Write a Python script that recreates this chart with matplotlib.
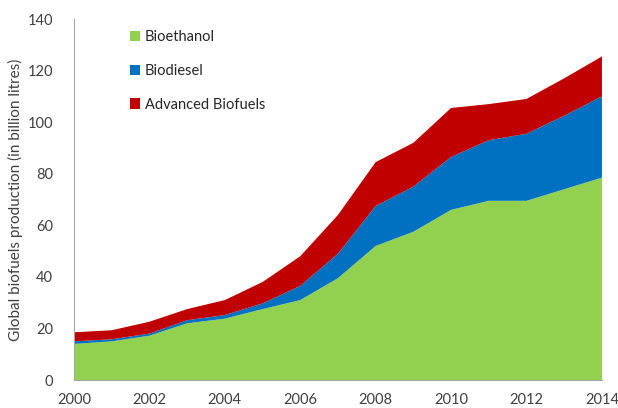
import matplotlib
matplotlib.use("Agg")
import matplotlib.pyplot as plt
from matplotlib.patches import Patch

years = [2000, 2001, 2002, 2003, 2004, 2005, 2006, 2007, 2008, 2009, 2010, 2011, 2012, 2013, 2014]
bioethanol = [14.0, 15.0, 17.2, 22.0, 23.8, 27.5, 31.0, 39.5, 52.0, 57.5, 66.0, 69.5, 69.5, 74.0, 78.5]
biodiesel = [1.0, 0.8, 0.8, 1.2, 1.4, 2.2, 5.5, 9.5, 15.5, 17.5, 20.5, 23.5, 26.0, 28.5, 31.5]
advanced = [3.5, 3.5, 4.6, 4.3, 5.8, 8.3, 11.5, 15.0, 17.0, 17.0, 19.0, 14.0, 13.5, 14.5, 15.5]
labels = ["Bioethanol", "Biodiesel", "Advanced Biofuels"]
colors = ["#92D050", "#0070C0", "#C00000"]
xticks = [2000, 2002, 2004, 2006, 2008, 2010, 2012, 2014]
yticks = [0, 20, 40, 60, 80, 100, 120, 140]

plt.rcParams['font.family'] = ['Lato', 'DejaVu Sans']

fig = plt.figure(figsize=(6.18, 4.08), dpi=100)
ax = fig.add_axes([0.1197, 0.0686, 0.8543, 0.8848])
ax.stackplot(years, bioethanol, biodiesel, advanced, colors=colors, linewidth=0)

ax.set_xlim(2000, 2014)
ax.set_ylim(0, 140)
ax.set_xticks(xticks)
ax.set_xticklabels([str(t) for t in xticks])
ax.set_yticks(yticks)
ax.tick_params(length=0, labelsize=10.5, colors="#404040")
ax.tick_params(axis='y', pad=15)
ax.tick_params(axis='x', pad=9)
for s in ["top", "right"]:
    ax.spines[s].set_visible(False)
ax.spines["left"].set_color("#A6A6A6")
ax.spines["bottom"].set_color("#A6A6A6")
ax.set_ylabel("Global biofuels production (in billion litres)", fontsize=11, color="#404040", labelpad=3)

handles = [Patch(facecolor=c, edgecolor="none") for c in colors]
leg = ax.legend(handles, labels, loc="upper left", bbox_to_anchor=(0.095, 0.985),
                frameon=False, fontsize=10.5, handlelength=0.7, handleheight=0.7,
                handletextpad=0.3, labelspacing=1.35, borderaxespad=0)
for t in leg.get_texts():
    t.set_color("#262626")

fig.savefig("out.png", dpi=100)
